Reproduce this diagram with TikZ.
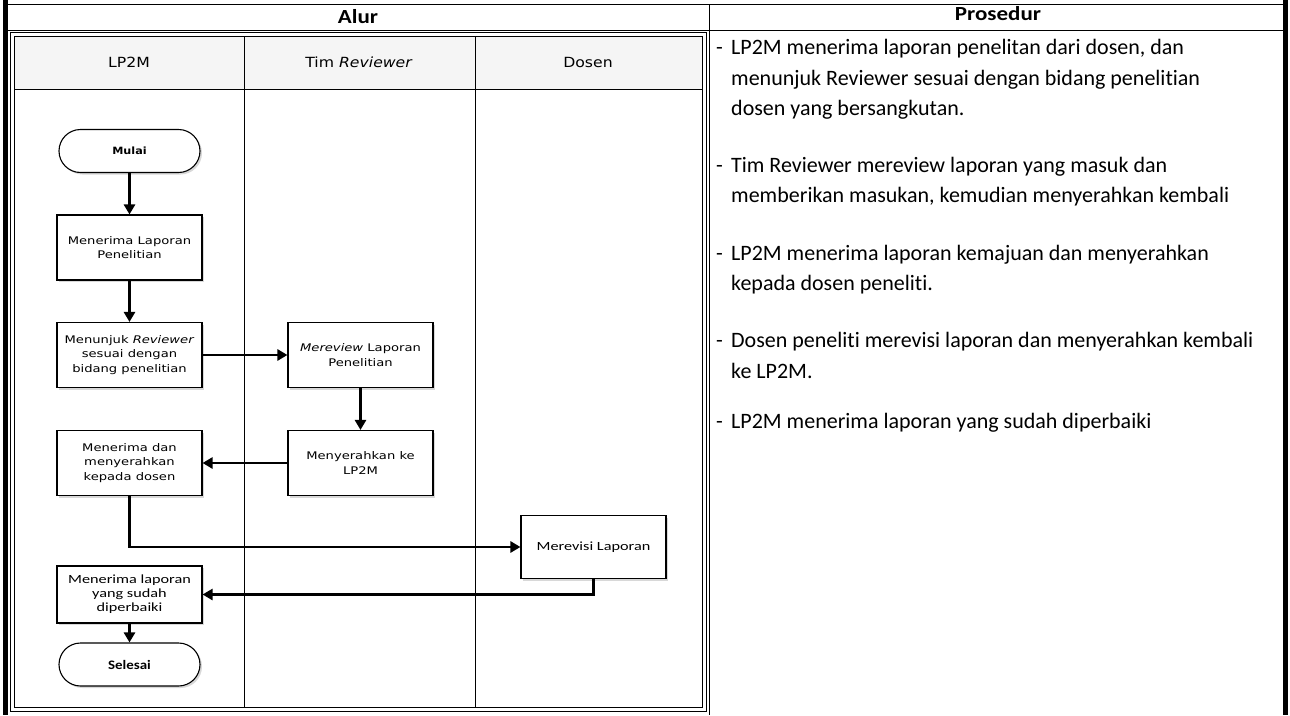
\documentclass[tikz,border=0pt]{standalone}
\usepackage{fontspec}
\setmainfont{Carlito}[Ligatures=NoCommon]
\newfontfamily\verd{DejaVu Sans}[FakeStretch=1.25]
\newfontfamily\verdh{DejaVu Sans}[FakeStretch=1.12]
\newfontfamily\carw{Carlito}[FakeStretch=1.3,Ligatures=NoCommon]
\newfontfamily\carh{Carlito}[FakeStretch=1.15,Ligatures=NoCommon]
\usetikzlibrary{arrows.meta,shadows,shapes.misc}
\begin{document}
\begin{tikzpicture}[x=1pt,y=-1pt,
  proc/.style={draw, line width=1.1pt, fill=white, minimum width=145pt, minimum height=65pt,
    inner sep=2pt, align=center, font=\verd\fontsize{10.5}{14.5}\selectfont,
    drop shadow={shadow xshift=2pt,shadow yshift=-2pt,fill=gray!60,opacity=0.5}},
  procc/.style={proc, font=\carw\fontsize{12.5}{14}\selectfont},
  term/.style={draw, line width=1.1pt, rounded rectangle, fill=white, minimum width=145pt,
    minimum height=43pt, inner sep=2pt,
    drop shadow={shadow xshift=2pt,shadow yshift=-2pt,fill=gray!60,opacity=0.5}},
  flow/.style={line width=2.6pt, -{Triangle[length=10pt,width=11pt]}},
  lanehead/.style={font=\verdh\fontsize{14}{16}\selectfont},
  colhead/.style={font=\carh\fontsize{20}{22}\selectfont\bfseries},
  ptext/.style={anchor=base west, inner sep=0pt, font=\fontsize{22}{25}\selectfont},
  thin/.style={line width=0.8pt},
  heavy/.style={line width=5pt}
]
\useasboundingbox (0,0) rectangle (1290,715);
\fill[white] (0,0) rectangle (1290,715);

% outer table
\draw[thin] (5,4) -- (1285,4);
\draw[thin] (5,30) -- (1285,30);
\draw[thin] (709,4) -- (709,715);
\draw[heavy] (5,0) -- (5,715);
\draw[heavy] (1285,0) -- (1285,715);
\node[colhead] (alur) at (358,17) {Alur};
\node[colhead] (pros) at (998,14) {Prosedur};

% swimlane frame
\fill[gray!8] (14,36) rectangle (702,89);
\draw[thin] (10,32) rectangle (706,711);
\draw[thin] (14,36) rectangle (702,707);
\draw[thin] (14,89) -- (702,89);
\draw[thin] (244,36) -- (244,707);
\draw[thin] (475,36) -- (475,707);
\node[lanehead] (l1) at (129,62) {LP2M};
\node[lanehead] (l2) at (359,62) {Tim \textit{Reviewer}};
\node[lanehead] (l3) at (588,62) {Dosen};

% flow nodes
\node[term, font=\verdh\fontsize{10}{12}\selectfont\bfseries] (mulai) at (129.5,151) {Mulai};
\node[proc] (b1) at (129.5,247.5) {Menerima Laporan\\Penelitian};
\node[proc] (b2) at (129.5,355) {Menunjuk \textit{Reviewer}\\sesuai dengan\\bidang penelitian};
\node[proc] (b3) at (360.5,355) {\textit{Mereview} Laporan\\Penelitian};
\node[proc] (b4) at (360.5,463) {Menyerahkan ke\\LP2M};
\node[proc] (b5) at (129.5,463) {Menerima dan\\menyerahkan\\kepada dosen};
\node[procc, minimum height=63pt] (b6) at (593.5,547) {Merevisi Laporan};
\node[procc, minimum height=57pt] (b7) at (129.5,594.5) {Menerima laporan\\yang sudah\\diperbaiki};
\node[term, font=\carh\fontsize{13}{15}\selectfont\bfseries] (selesai) at (129.5,664.5) {Selesai};

% connectors
\draw[flow] (mulai) -- (b1);
\draw[flow] (b1) -- (b2);
\draw[flow] (b2) -- (b3);
\draw[flow] (b3) -- (b4);
\draw[flow] (b4) -- (b5);
\draw[flow] (b5.south) |- (b6.west);
\draw[flow] (b6.south) |- (b7.east);
\draw[flow] (b7) -- (selesai);

% procedure text
\node[ptext] (p1a) at (716,54) {\makebox[15pt][l]{-}LP2M menerima laporan penelitan dari dosen, dan};
\node[ptext] (p1b) at (731,85) {menunjuk Reviewer sesuai dengan bidang penelitian};
\node[ptext] (p1c) at (731,115) {dosen yang bersangkutan.};
\node[ptext] (p2a) at (716,172) {\makebox[15pt][l]{-}Tim Reviewer mereview laporan yang masuk dan};
\node[ptext] (p2b) at (731,202) {memberikan masukan, kemudian menyerahkan kembali};
\node[ptext] (p3a) at (716,260) {\makebox[15pt][l]{-}LP2M menerima laporan kemajuan dan menyerahkan};
\node[ptext] (p3b) at (731,290) {kepada dosen peneliti.};
\node[ptext] (p4a) at (716,347) {\makebox[15pt][l]{-}Dosen peneliti merevisi laporan dan menyerahkan kembali};
\node[ptext] (p4b) at (731,378) {ke LP2M.};
\node[ptext] (p5a) at (716,428) {\makebox[15pt][l]{-}LP2M menerima laporan yang sudah diperbaiki};
\end{tikzpicture}
\end{document}
